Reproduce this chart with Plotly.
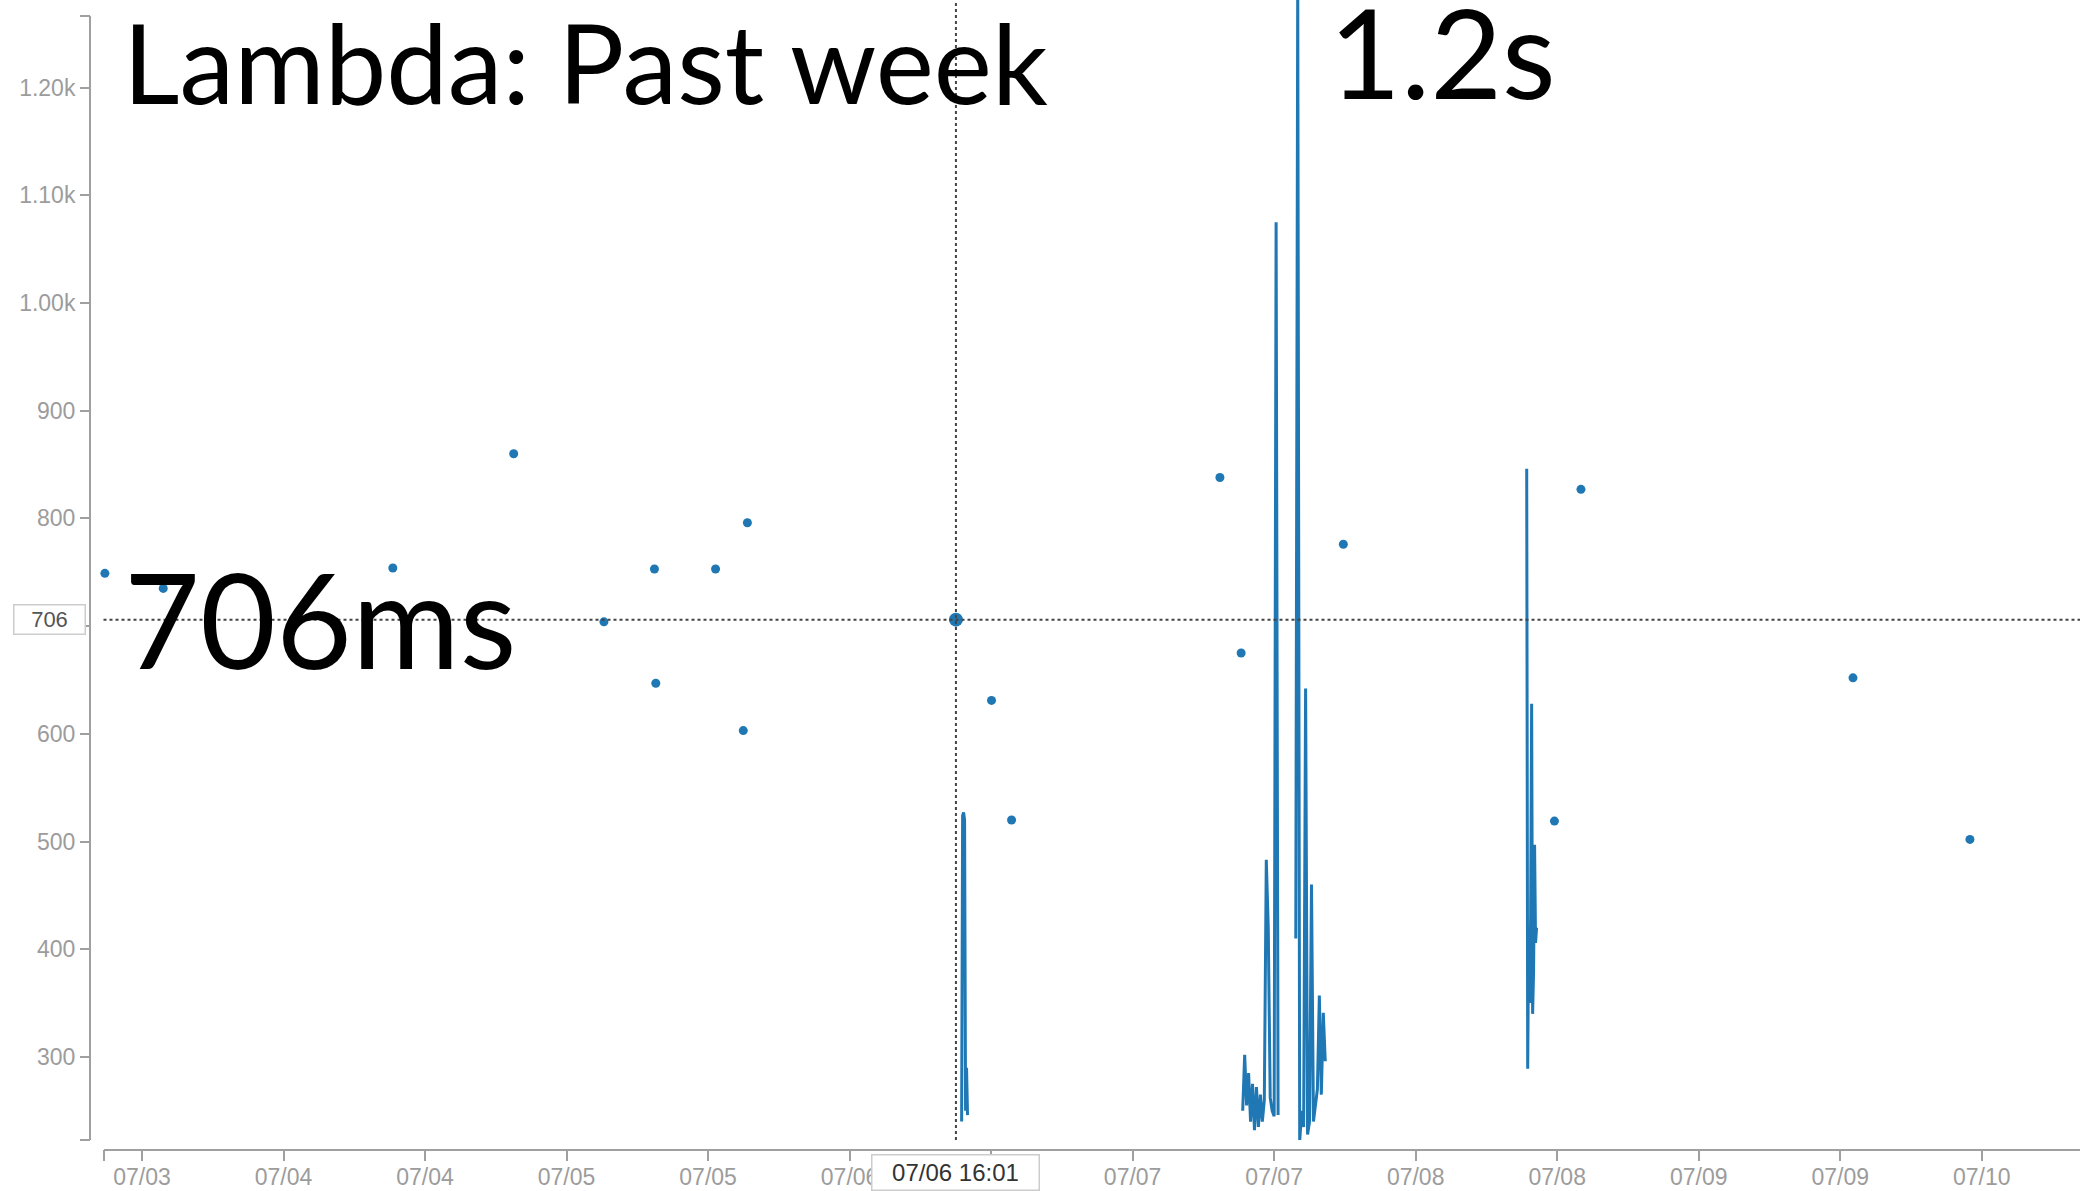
import plotly.graph_objects as go

W, H = 2080, 1191

# ---------------- data ----------------
# isolated invocations (timestamp, duration in ms)
dot_times = [
    "2017-07-03 15:51", "2017-07-03 20:48", "2017-07-04 16:16", "2017-07-05 02:31",
    "2017-07-05 10:10", "2017-07-05 14:27", "2017-07-05 14:34", "2017-07-05 19:38",
    "2017-07-05 21:59", "2017-07-05 22:20", "2017-07-06 16:01", "2017-07-06 19:02",
    "2017-07-06 20:44", "2017-07-07 14:24", "2017-07-07 16:12", "2017-07-08 00:52",
    "2017-07-08 18:46", "2017-07-08 21:01", "2017-07-09 20:05", "2017-07-10 06:00",
]
dot_values = [749, 735, 754, 860, 704, 753, 647, 753, 603, 796,
              706, 631, 520, 838, 675, 776, 519, 827, 652, 502]
highlight_index = 10  # hovered point (07/06 16:01, 706 ms)

# bursts of continuous readings
burst_a_times = ["2017-07-06 16:30", "2017-07-06 16:35", "2017-07-06 16:40", "2017-07-06 16:45",
                 "2017-07-06 16:50", "2017-07-06 16:55", "2017-07-06 17:00"]
burst_a_values = [240, 524, 527, 520, 250, 290, 246]

burst_b1_times = ["2017-07-07 16:20", "2017-07-07 16:30", "2017-07-07 16:40", "2017-07-07 16:50",
                  "2017-07-07 17:00", "2017-07-07 17:10", "2017-07-07 17:20", "2017-07-07 17:30",
                  "2017-07-07 17:40", "2017-07-07 17:50", "2017-07-07 18:00", "2017-07-07 18:10",
                  "2017-07-07 18:20", "2017-07-07 18:30", "2017-07-07 18:40", "2017-07-07 18:50",
                  "2017-07-07 19:00", "2017-07-07 19:10", "2017-07-07 19:20"]
burst_b1_values = [250, 302, 255, 285, 240, 275, 232, 272, 235, 265, 240, 260,
                   483, 420, 262, 250, 245, 1075, 246]

burst_b2_times = ["2017-07-07 20:50", "2017-07-07 21:00", "2017-07-07 21:10", "2017-07-07 21:20",
                  "2017-07-07 21:30", "2017-07-07 21:40", "2017-07-07 21:50", "2017-07-07 22:00",
                  "2017-07-07 22:10", "2017-07-07 22:20", "2017-07-07 22:30", "2017-07-07 22:40",
                  "2017-07-07 22:50", "2017-07-07 23:00", "2017-07-07 23:10", "2017-07-07 23:20"]
burst_b2_values = [410, 1300, 222, 250, 235, 642, 228, 240, 460, 240, 255, 270,
                   357, 265, 341, 296]

burst_c_times = ["2017-07-08 16:25", "2017-07-08 16:30", "2017-07-08 16:35", "2017-07-08 16:40",
                 "2017-07-08 16:45", "2017-07-08 16:50", "2017-07-08 16:55", "2017-07-08 17:00",
                 "2017-07-08 17:05", "2017-07-08 17:10", "2017-07-08 17:15"]
burst_c_values = [846, 289, 420, 350, 430, 628, 340, 380, 497, 406, 420]

y_tick_values = [300, 400, 500, 600, 700, 800, 900, 1000, 1100, 1200]
x_range = ["2017-07-03 15:44", "2017-07-10 15:20"]
y_range = [222.9, 1281.3]

title_text = "Lambda: Past week"
peak_text = "1.2s"

# ---------------- figure ----------------
BLUE = "#1f77b4"
GREY = "#a0a0a0"


def px_x(p):
    return p / W


def px_y(p):
    return 1 - p / H


line_x, line_y = [], []
for ts, vs in [(burst_a_times, burst_a_values), (burst_b1_times, burst_b1_values),
               (burst_b2_times, burst_b2_values), (burst_c_times, burst_c_values)]:
    line_x += ts + [None]
    line_y += vs + [None]

fig = go.Figure()
fig.add_trace(go.Scatter(x=line_x, y=line_y, mode="lines", connectgaps=False,
                         line=dict(color=BLUE, width=3), hoverinfo="skip"))
sizes = [9] * len(dot_values)
sizes[highlight_index] = 14
fig.add_trace(go.Scatter(x=dot_times, y=dot_values, mode="markers", cliponaxis=False,
                         marker=dict(color=BLUE, size=sizes, opacity=1, line=dict(width=0))))

hx = dot_times[highlight_index]
hy = dot_values[highlight_index]
hx_label = hx[5:7] + "/" + hx[8:10] + " " + hx[11:16]

shapes = [
    # y axis line with end caps
    dict(type="line", xref="paper", yref="paper", x0=px_x(90), x1=px_x(90),
         y0=px_y(16), y1=px_y(1140), line=dict(color=GREY, width=2)),
    dict(type="line", xref="paper", yref="paper", x0=px_x(80), x1=px_x(90),
         y0=px_y(16), y1=px_y(16), line=dict(color=GREY, width=2)),
    dict(type="line", xref="paper", yref="paper", x0=px_x(80), x1=px_x(90),
         y0=px_y(1140), y1=px_y(1140), line=dict(color=GREY, width=2)),
    # x axis start cap
    dict(type="line", xref="paper", yref="paper", x0=px_x(104), x1=px_x(104),
         y0=px_y(1150), y1=px_y(1161), line=dict(color=GREY, width=2)),
    # crosshair
    dict(type="line", xref="x", yref="y domain", x0=hx, x1=hx, y0=0, y1=1,
         line=dict(color="#444", width=2, dash="dot")),
    dict(type="line", xref="x domain", yref="y", x0=0, x1=1, y0=hy, y1=hy,
         line=dict(color="#444", width=2, dash="dot")),
]

annotations = [
    dict(text=str(hy), xref="paper", yref="y", x=px_x(49.5), y=hy, xanchor="center",
         yanchor="middle", showarrow=False, width=68, height=26, bgcolor="white",
         bordercolor="#cccccc", borderwidth=1.5,
         font=dict(family="Liberation Sans, Arial, sans-serif", size=22, color="#555")),
    dict(text=hx_label, xref="x", yref="paper", x=hx, y=px_y(1172), xanchor="center",
         yanchor="middle", showarrow=False, width=164, height=32, bgcolor="white",
         bordercolor="#cccccc", borderwidth=1.5,
         font=dict(family="Liberation Sans, Arial, sans-serif", size=24, color="#333")),
    dict(text=title_text, xref="paper", yref="paper", x=px_x(121), y=px_y(60.7),
         xanchor="left", yanchor="middle", showarrow=False,
         font=dict(family="Lato, sans-serif", size=110, color="black")),
    dict(text=peak_text, xref="paper", yref="paper", x=px_x(1327), y=px_y(51),
         xanchor="left", yanchor="middle", showarrow=False,
         font=dict(family="Lato, sans-serif", size=124, color="black")),
    dict(text=f"{hy}ms", xref="paper", yref="paper", x=px_x(122), y=px_y(618),
         xanchor="left", yanchor="middle", showarrow=False,
         font=dict(family="Lato, sans-serif", size=131, color="black")),
]

tickfont = dict(family="Liberation Sans, Arial, sans-serif", size=23, color="#9c9c9c")

xaxis = dict(
    type="date", domain=[px_x(103.5), 1], anchor="free", position=px_y(1150),
    range=x_range, showline=True, linecolor=GREY, linewidth=2,
    ticks="outside", ticklen=10, tickwidth=2, tickcolor=GREY,
    tick0="2017-07-03 07:00", dtick=43200000, tickformat="%m/%d",
    tickfont=tickfont, showgrid=False, zeroline=False, automargin=False,
)

fig.update_layout(
    width=W, height=H,
    margin=dict(l=0, r=0, t=0, b=0),
    paper_bgcolor="white", plot_bgcolor="white",
    showlegend=False,
    hovermode=False,
    shapes=shapes,
    annotations=annotations,
    xaxis=xaxis,
    yaxis=dict(
        domain=[px_y(1140), 1], anchor="free", position=px_x(90),
        range=y_range, showline=False,
        ticks="outside", ticklen=10, tickwidth=2, tickcolor=GREY,
        tickvals=y_tick_values, tickformat=".3s",
        tickfont=tickfont, showgrid=False, zeroline=False, automargin=False,
    ),
)

try:
    fig.update_xaxes(ticklabelstandoff=-4)
except Exception:
    pass

fig.write_html("out.html", config={"displayModeBar": False},
               post_script="document.body.style.margin='0';")
